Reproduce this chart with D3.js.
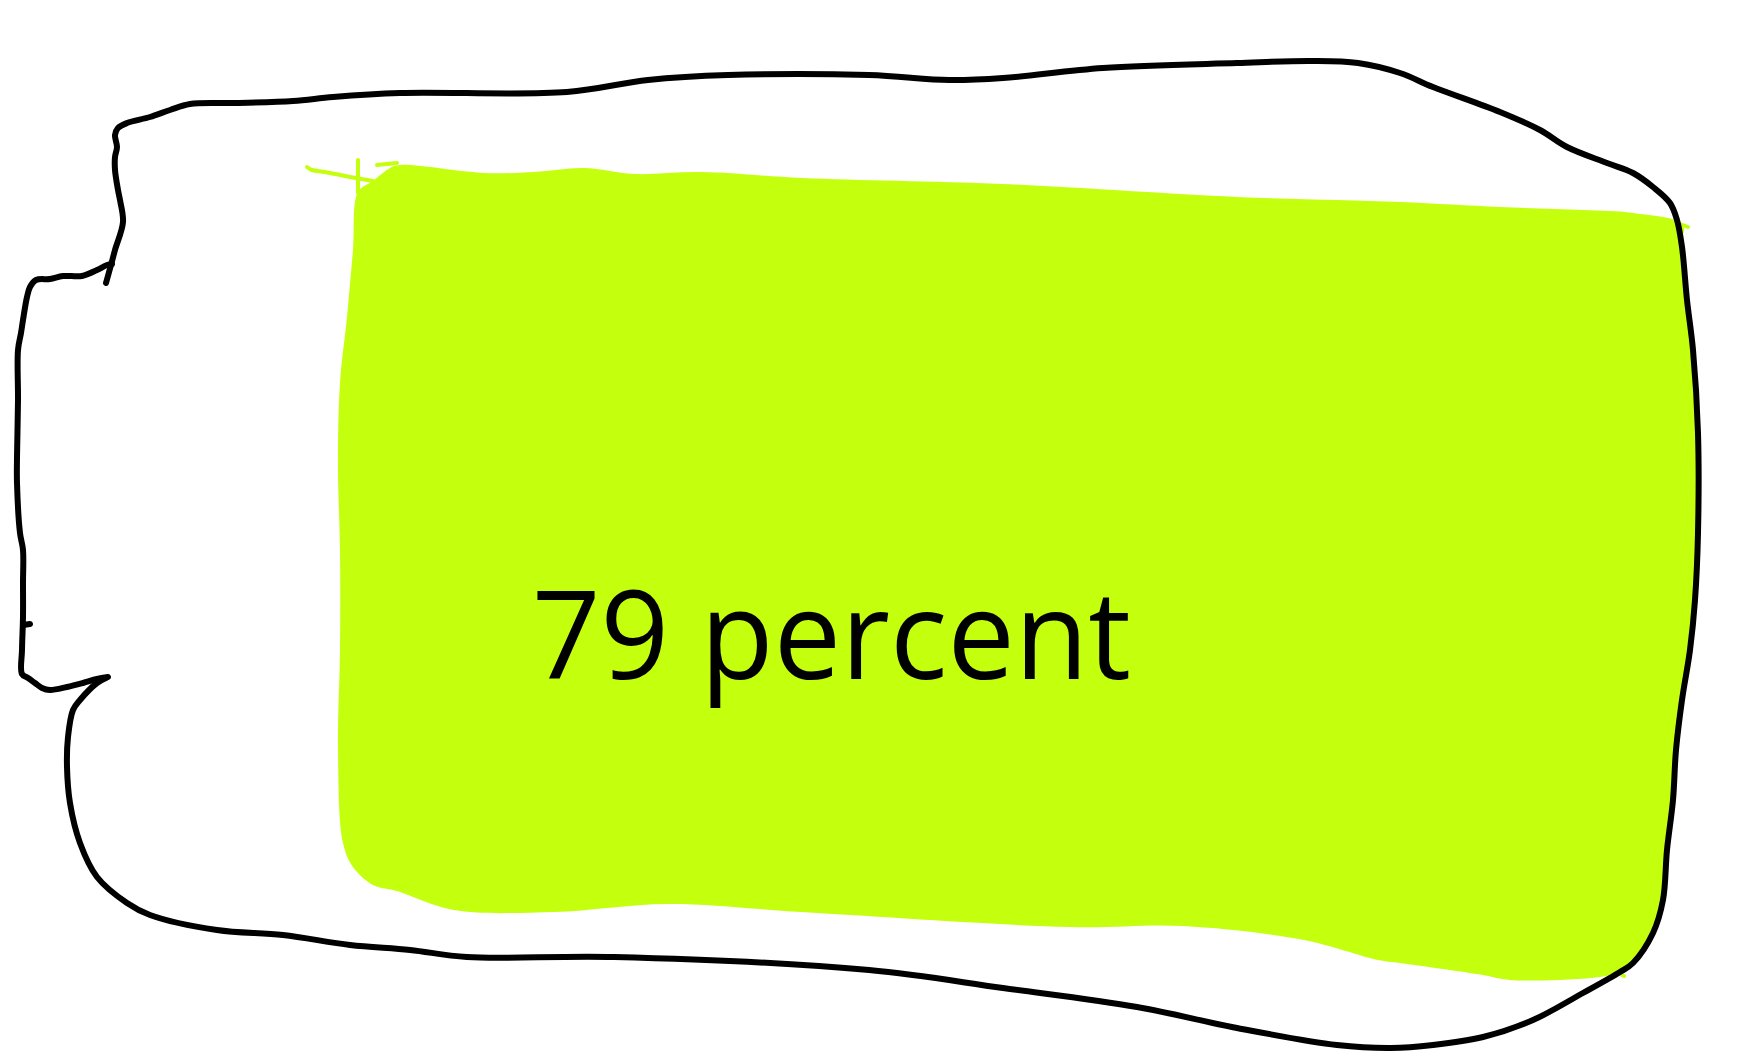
<!DOCTYPE html>
<html>
<head>
<meta charset="utf-8">
<script src="https://cdn.jsdelivr.net/npm/d3@7"></script>
<style>
  html, body { margin: 0; padding: 0; background: #ffffff; }
  svg { display: block; }
</style>
</head>
<body>
<div id="chart"></div>
<script>
// ---- data ----
const value = 79;
const unit = "percent";

// hand-drawn battery outline (sketch coordinates)
const outlineBody = [
  [106,283],[111,265],[115,250],[123,222],[120,200],[118,190],[115,170],[115,157],[117,147],[115,135],
  [118,128],[127,123],[150,117],[170,110],[190,104],[233,103],[293,101],[333,97],[400,93],[567,92],
  [648,80],[728,75],[869,75],[949,80],[1003,78],[1103,68],[1237,63],[1311,61],[1358,63],[1400,73],
  [1433,87],[1500,112],[1540,130],[1567,147],[1607,163],[1633,173],[1653,187],[1670,203],[1677,220],
  [1682,247],[1687,300],[1693,350],[1698,433],[1698,533],[1695,600],[1690,650],[1682,700],[1676,750],
  [1673,800],[1667,850],[1663,900],[1653,933],[1633,963],[1620,972],[1583,993],[1533,1020],[1483,1037],
  [1433,1045],[1391,1048],[1337,1045],[1237,1028],[1137,1007],[1003,988],[869,970],[614,957],[467,957],
  [410,950],[350,945],[283,935],[217,930],[150,915],[127,903],[97,877],[80,843],[70,803],[67,767],
  [68,737],[73,710],[80,700],[97,683],[106,678]
];
const outlineNub = [
  [108,677],[97,679],[83,683],[67,687],[50,690],[42,688],[35,683],[28,678],[22,674],[22,650],
  [23,617],[23,583],[23,550],[20,533],[17,483],[17,457],[18,400],[18,350],[21,333],[23,320],
  [27,297],[30,287],[36,280],[50,279],[63,276],[82,276],[97,270],[107,265],[112,264]
];
const nubTick = [[23,625],[30,624]];

// level fill (sketch coordinates)
const levelFill = [
  [358,192],[373,181],[390,168],[400,165],[484,173],[534,172],[584,168],[634,174],[701,172],[802,178],
  [1003,184],[1237,197],[1400,202],[1500,207],[1583,210],[1633,213],[1683,225],
  [1680,247],[1685,300],[1691,350],[1696,433],[1696,533],[1693,600],[1688,650],[1680,700],[1674,750],
  [1671,800],[1665,850],[1661,900],[1651,933],[1631,963],[1620,972],
  [1600,977],[1510,980],[1483,975],[1400,963],[1378,960],[1304,940],[1183,926],[1070,927],[802,912],
  [668,904],[554,912],[454,910],[400,892],[393,890],[373,885],[353,867],[343,843],[338,750],
  [340,650],[340,550],[338,467],[340,383],[347,317],[353,250]
];
const scribbles = [
  [[307,167],[312,170],[325,172],[350,177],[373,181]],
  [[358,160],[358,193]],
  [[377,165],[397,163]],
  [[1680,224],[1688,227]],
  [[1618,973],[1624,976]]
];

// ---- drawing ----
const W = 1738, H = 1062;
const x = d3.scaleLinear().domain([0, 1738]).range([0, W]);
const y = d3.scaleLinear().domain([0, 1062]).range([0, H]);

const svg = d3.select("#chart").append("svg")
  .attr("width", W).attr("height", H)
  .style("background", "#ffffff");

const smooth = d3.line().x(d => x(d[0])).y(d => y(d[1])).curve(d3.curveCatmullRom.alpha(0.5));
const straight = d3.line().x(d => x(d[0])).y(d => y(d[1]));

const lime = "#c4ff0e";

svg.append("path")
  .attr("d", d3.line().x(d => x(d[0])).y(d => y(d[1])).curve(d3.curveCatmullRomClosed.alpha(0.5))(levelFill))
  .attr("fill", lime)
  .attr("stroke", "none");

svg.selectAll("path.scribble").data(scribbles).join("path")
  .attr("class", "scribble")
  .attr("d", d => smooth(d))
  .attr("fill", "none")
  .attr("stroke", lime)
  .attr("stroke-width", 4)
  .attr("stroke-linecap", "round");

[outlineBody, outlineNub, nubTick].forEach(pts => {
  svg.append("path")
    .attr("d", pts.length > 2 ? smooth(pts) : straight(pts))
    .attr("fill", "none")
    .attr("stroke", "#000000")
    .attr("stroke-width", 6)
    .attr("stroke-linejoin", "round")
    .attr("stroke-linecap", "round");
});

svg.append("text")
  .attr("transform", `translate(${x(532)},${y(679)}) scale(0.975,1)`)
  .attr("font-family", "'Open Sans', 'Noto Sans', sans-serif")
  .attr("font-size", 123)
  .attr("fill", "#000000")
  .text(`${value} ${unit}`);
</script>
</body>
</html>
